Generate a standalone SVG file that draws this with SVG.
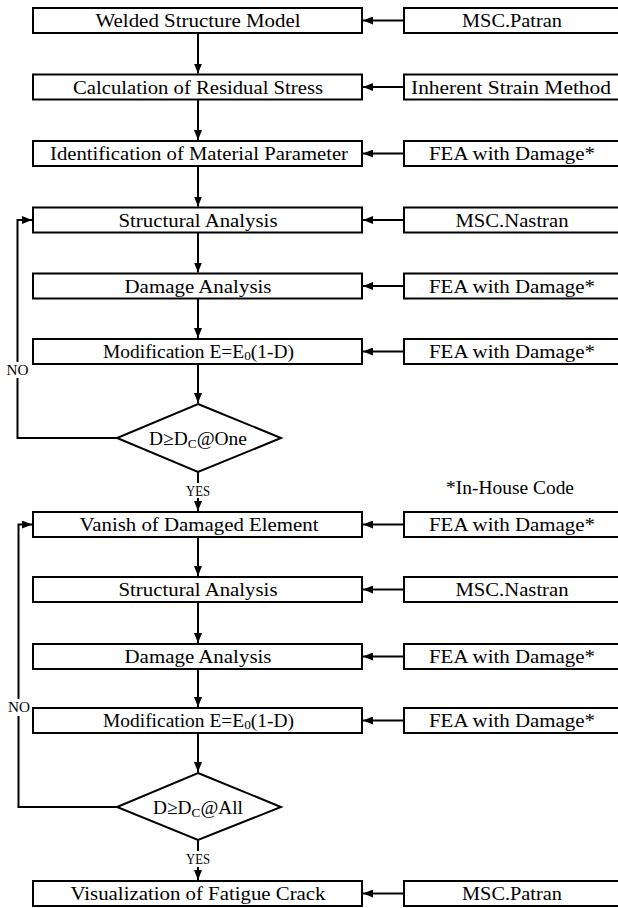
<svg xmlns="http://www.w3.org/2000/svg" width="618" height="908" viewBox="0 0 618 908">
<defs>
<marker id="ah" markerUnits="userSpaceOnUse" markerWidth="10" markerHeight="8" refX="10" refY="4" orient="auto"><path d="M0,0 L10,4 L0,8 z" fill="#000"/></marker>
</defs>
<style>
.box{fill:#fff;stroke:#000;stroke-width:2}
.t{font-family:"Liberation Serif","DejaVu Serif","Times New Roman",serif;font-size:19px;fill:#000;text-anchor:middle}
.s{font-family:"Liberation Serif","DejaVu Serif","Times New Roman",serif;font-size:14px;fill:#000;text-anchor:middle}
.c{fill:none;stroke:#000;stroke-width:2}
.a{marker-end:url(#ah)}
</style>
<rect width="618" height="908" fill="#fff"/>
<g id="connectors">
<path class="c a" d="M198,33 V73.5"/>
<path class="c a" d="M198,99.5 V140"/>
<path class="c a" d="M198,166 V206.5"/>
<path class="c a" d="M198,232.5 V272.5"/>
<path class="c a" d="M198,298.5 V338"/>
<path class="c a" d="M198,364 V403"/>
<path class="c" d="M198,472 V483"/>
<path class="c a" d="M198,498 V511"/>
<path class="c a" d="M198,537 V576"/>
<path class="c a" d="M198,602 V643"/>
<path class="c a" d="M198,669 V707"/>
<path class="c a" d="M198,733 V772"/>
<path class="c" d="M198,840 V851"/>
<path class="c a" d="M198,867 V880"/>
<path class="c a" d="M404,20.5 H363"/>
<path class="c a" d="M404,87 H363"/>
<path class="c a" d="M404,153.5 H363"/>
<path class="c a" d="M404,220 H363"/>
<path class="c a" d="M404,286 H363"/>
<path class="c a" d="M404,351.5 H363"/>
<path class="c a" d="M404,524.5 H363"/>
<path class="c a" d="M404,589.5 H363"/>
<path class="c a" d="M404,656.5 H363"/>
<path class="c a" d="M404,720.5 H363"/>
<path class="c a" d="M404,893.5 H363"/>
<path class="c" d="M117,438 H17.5 V378"/>
<path class="c a" d="M17.5,362 V220 H32"/>
<path class="c" d="M117,807 H18.5 V716"/>
<path class="c a" d="M18.5,699 V524.5 H32"/>
<text class="s" x="17.5" y="375" textLength="22" lengthAdjust="spacingAndGlyphs">NO</text>
<text class="s" x="19" y="712" textLength="22" lengthAdjust="spacingAndGlyphs">NO</text>
<text class="s" x="198" y="496" textLength="24" lengthAdjust="spacingAndGlyphs">YES</text>
<text class="s" x="198" y="864" textLength="24" lengthAdjust="spacingAndGlyphs">YES</text>
</g>
<g id="n1"><rect class="box" x="33" y="8" width="329" height="25"/><text class="t" x="198" y="27" textLength="205" lengthAdjust="spacingAndGlyphs">Welded Structure Model</text></g>
<g id="r1"><rect class="box" x="404" y="8" width="220" height="25"/><text class="t" x="512" y="27" textLength="100" lengthAdjust="spacingAndGlyphs">MSC.Patran</text></g>
<g id="n2"><rect class="box" x="33" y="74.5" width="329" height="25"/><text class="t" x="198" y="93.5" textLength="250" lengthAdjust="spacingAndGlyphs">Calculation of Residual Stress</text></g>
<g id="r2"><rect class="box" x="404" y="74.5" width="220" height="25"/><text class="t" x="511" y="93.5" textLength="200" lengthAdjust="spacingAndGlyphs">Inherent Strain Method</text></g>
<g id="n3"><rect class="box" x="33" y="141" width="329" height="25"/><text class="t" x="199" y="160" textLength="298" lengthAdjust="spacingAndGlyphs">Identification of Material Parameter</text></g>
<g id="r3"><rect class="box" x="404" y="141" width="220" height="25"/><text class="t" x="512" y="160" textLength="166" lengthAdjust="spacingAndGlyphs">FEA with Damage*</text></g>
<g id="n4"><rect class="box" x="33" y="207.5" width="329" height="25"/><text class="t" x="198" y="226.5" textLength="159" lengthAdjust="spacingAndGlyphs">Structural Analysis</text></g>
<g id="r4"><rect class="box" x="404" y="207.5" width="220" height="25"/><text class="t" x="512" y="226.5" textLength="113" lengthAdjust="spacingAndGlyphs">MSC.Nastran</text></g>
<g id="n5"><rect class="box" x="33" y="273.5" width="329" height="25"/><text class="t" x="198" y="292.5" textLength="147" lengthAdjust="spacingAndGlyphs">Damage Analysis</text></g>
<g id="r5"><rect class="box" x="404" y="273.5" width="220" height="25"/><text class="t" x="512" y="292.5" textLength="166" lengthAdjust="spacingAndGlyphs">FEA with Damage*</text></g>
<g id="n6"><rect class="box" x="33" y="339" width="329" height="25"/><text class="t" x="198.5" y="358" textLength="191" lengthAdjust="spacingAndGlyphs">Modification E=E<tspan font-size="13" dy="2">0</tspan><tspan dy="-2">(1-D)</tspan></text></g>
<g id="r6"><rect class="box" x="404" y="339" width="220" height="25"/><text class="t" x="512" y="358" textLength="166" lengthAdjust="spacingAndGlyphs">FEA with Damage*</text></g>
<g id="d1"><polygon class="box" points="198,404 281,438 198,472 117,438"/><text class="t" x="198" y="444.5" textLength="98" lengthAdjust="spacingAndGlyphs">D≥D<tspan font-size="13" dy="3">C</tspan><tspan dy="-3">@One</tspan></text></g>
<g id="note"><text class="t" x="510" y="494" textLength="128" lengthAdjust="spacingAndGlyphs">*In-House Code</text></g>
<g id="n7"><rect class="box" x="33" y="512" width="329" height="25"/><text class="t" x="199" y="531" textLength="239" lengthAdjust="spacingAndGlyphs">Vanish of Damaged Element</text></g>
<g id="r7"><rect class="box" x="404" y="512" width="220" height="25"/><text class="t" x="512" y="531" textLength="166" lengthAdjust="spacingAndGlyphs">FEA with Damage*</text></g>
<g id="n8"><rect class="box" x="33" y="577" width="329" height="25"/><text class="t" x="198" y="596" textLength="159" lengthAdjust="spacingAndGlyphs">Structural Analysis</text></g>
<g id="r8"><rect class="box" x="404" y="577" width="220" height="25"/><text class="t" x="512" y="596" textLength="113" lengthAdjust="spacingAndGlyphs">MSC.Nastran</text></g>
<g id="n9"><rect class="box" x="33" y="644" width="329" height="25"/><text class="t" x="198" y="663" textLength="147" lengthAdjust="spacingAndGlyphs">Damage Analysis</text></g>
<g id="r9"><rect class="box" x="404" y="644" width="220" height="25"/><text class="t" x="512" y="663" textLength="166" lengthAdjust="spacingAndGlyphs">FEA with Damage*</text></g>
<g id="n10"><rect class="box" x="33" y="708" width="329" height="25"/><text class="t" x="198.5" y="727" textLength="191" lengthAdjust="spacingAndGlyphs">Modification E=E<tspan font-size="13" dy="2">0</tspan><tspan dy="-2">(1-D)</tspan></text></g>
<g id="r10"><rect class="box" x="404" y="708" width="220" height="25"/><text class="t" x="512" y="727" textLength="166" lengthAdjust="spacingAndGlyphs">FEA with Damage*</text></g>
<g id="d2"><polygon class="box" points="198,773 281,807 198,840 117,807"/><text class="t" x="198" y="813.5" textLength="90" lengthAdjust="spacingAndGlyphs">D≥D<tspan font-size="13" dy="3">C</tspan><tspan dy="-3">@All</tspan></text></g>
<g id="n11"><rect class="box" x="33" y="881" width="329" height="25"/><text class="t" x="198" y="900" textLength="255" lengthAdjust="spacingAndGlyphs">Visualization of Fatigue Crack</text></g>
<g id="r11"><rect class="box" x="404" y="881" width="220" height="25"/><text class="t" x="512" y="900" textLength="100" lengthAdjust="spacingAndGlyphs">MSC.Patran</text></g>
</svg>
